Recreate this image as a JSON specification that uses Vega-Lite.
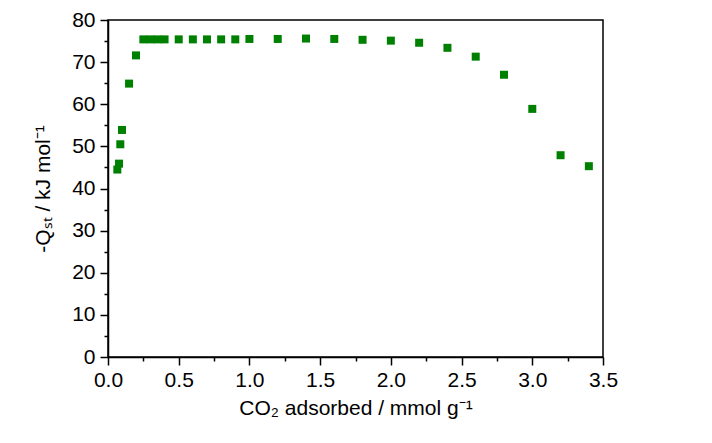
{
  "$schema": "https://vega.github.io/schema/vega-lite/v6.json",
  "width": 495,
  "height": 337,
  "autosize": "none",
  "padding": {"left": 108, "top": 20, "right": 109, "bottom": 86},
  "background": "white",
  "config": {
    "view": {"stroke": "black", "strokeWidth": 1.5},
    "axis": {
      "domainColor": "black",
      "domainWidth": 1.5,
      "tickColor": "black",
      "tickWidth": 1.5,
      "labelFont": "Liberation Sans",
      "labelFontSize": 21,
      "labelColor": "black",
      "titleFont": "Liberation Sans",
      "titleFontSize": 21,
      "titleFontWeight": "normal",
      "titleColor": "black",
      "grid": false
    }
  },
  "data": {
    "values": [
      {"x": 0.066, "y": 44.5},
      {"x": 0.078, "y": 45.9},
      {"x": 0.087, "y": 50.5},
      {"x": 0.099, "y": 53.9},
      {"x": 0.149, "y": 64.9},
      {"x": 0.198, "y": 71.6},
      {"x": 0.25, "y": 75.4},
      {"x": 0.30, "y": 75.4},
      {"x": 0.35, "y": 75.4},
      {"x": 0.40, "y": 75.4},
      {"x": 0.5, "y": 75.4},
      {"x": 0.6, "y": 75.4},
      {"x": 0.7, "y": 75.4},
      {"x": 0.8, "y": 75.4},
      {"x": 0.9, "y": 75.4},
      {"x": 1.0, "y": 75.5},
      {"x": 1.2, "y": 75.5},
      {"x": 1.4, "y": 75.6},
      {"x": 1.6, "y": 75.5},
      {"x": 1.8, "y": 75.3},
      {"x": 2.0, "y": 75.1},
      {"x": 2.2, "y": 74.6},
      {"x": 2.4, "y": 73.4},
      {"x": 2.6, "y": 71.3},
      {"x": 2.8, "y": 67.0},
      {"x": 3.0, "y": 58.9},
      {"x": 3.2, "y": 47.9},
      {"x": 3.4, "y": 45.3}
    ]
  },
  "mark": {"type": "square", "color": "#008000", "opacity": 1, "size": 64},
  "encoding": {
    "x": {
      "field": "x",
      "type": "quantitative",
      "scale": {"domain": [0, 3.5], "nice": false, "zero": false},
      "axis": {
        "title": "CO₂ adsorbed / mmol g⁻¹",
        "values": [0, 0.25, 0.5, 0.75, 1, 1.25, 1.5, 1.75, 2, 2.25, 2.5, 2.75, 3, 3.25, 3.5],
        "labelExpr": "abs(datum.value*2 - round(datum.value*2)) < 0.001 ? format(datum.value, '.1f') : ''",
        "tickSize": {"condition": {"test": "abs(datum.value*2 - round(datum.value*2)) < 0.001", "value": 8}, "value": 4},
        "labelPadding": 4,
        "labelFlush": false,
        "labelOverlap": false,
        "titlePadding": 7
      }
    },
    "y": {
      "field": "y",
      "type": "quantitative",
      "scale": {"domain": [0, 80], "nice": false},
      "axis": {
        "title": "-Qₛₜ / kJ mol⁻¹",
        "values": [0, 5, 10, 15, 20, 25, 30, 35, 40, 45, 50, 55, 60, 65, 70, 75, 80],
        "labelExpr": "datum.value % 10 === 0 ? datum.label : ''",
        "tickSize": {"condition": {"test": "datum.value % 10 === 0", "value": 8}, "value": 4},
        "labelPadding": 5,
        "labelFlush": false,
        "labelOverlap": false,
        "titlePadding": 18
      }
    }
  }
}
